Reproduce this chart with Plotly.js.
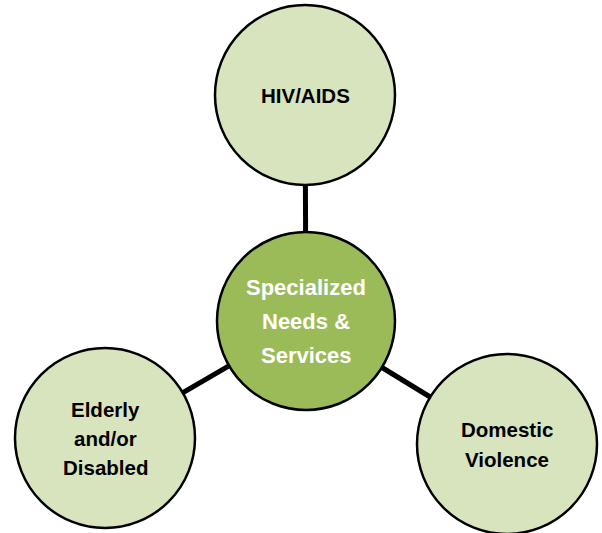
<!DOCTYPE html>
<html>
<head>
<meta charset="utf-8">
<script src="https://cdn.plot.ly/plotly-3.0.1.min.js"></script>
<style>html,body{margin:0;padding:0;background:#fff;}#chart{width:602px;height:533px;}</style>
</head>
<body>
<div id="chart"></div>
<script>
// Diagram data
const nodeNames = ["Specialized\nNeeds &\nServices", "HIV/AIDS", "Elderly\nand/or\nDisabled", "Domestic\nViolence"];
const nodeX = [306, 305, 105, 507];
const nodeY = [321, 95, 438, 444];
const nodeR = [89, 90, 90, 90];
const nodeFill = ["#9BBB59", "#D7E4BD", "#D7E4BD", "#D7E4BD"];
const nodeTextColor = ["#ffffff", "#000000", "#000000", "#000000"];
const nodeFontSize = [22, 20.5, 20.5, 20.5];
const nodeLineGap = [34, 30, 29, 30];
const links = [[0, 1], [0, 2], [0, 3]];

const shapes = [];
links.forEach(([a, b]) => {
  shapes.push({type: "line", xref: "x", yref: "y", x0: nodeX[a], y0: nodeY[a], x1: nodeX[b], y1: nodeY[b],
    line: {color: "#000000", width: 5}, layer: "below"});
});
nodeNames.forEach((n, i) => {
  shapes.push({type: "circle", xref: "x", yref: "y",
    x0: nodeX[i] - nodeR[i], x1: nodeX[i] + nodeR[i], y0: nodeY[i] - nodeR[i], y1: nodeY[i] + nodeR[i],
    fillcolor: nodeFill[i], line: {color: "#000000", width: 2.5}, layer: "below"});
});
const annotations = [];
nodeNames.forEach((n, i) => {
  const lines = n.split("\n");
  lines.forEach((t, k) => {
    annotations.push({x: nodeX[i], y: nodeY[i] + (k - (lines.length - 1) / 2) * nodeLineGap[i],
      xref: "x", yref: "y", text: "<b>" + t + "</b>", showarrow: false,
      font: {family: "Liberation Sans, Arial, sans-serif", size: nodeFontSize[i], color: nodeTextColor[i]},
      xanchor: "center", yanchor: "middle"});
  });
});

const data = [{x: nodeX, y: nodeY, mode: "markers", marker: {opacity: 0}, hoverinfo: "skip", showlegend: false}];
const layout = {
  width: 602, height: 533,
  margin: {l: 0, r: 0, t: 0, b: 0},
  paper_bgcolor: "#ffffff", plot_bgcolor: "#ffffff",
  xaxis: {range: [0, 602], visible: false, fixedrange: true},
  yaxis: {range: [533, 0], visible: false, fixedrange: true},
  shapes: shapes, annotations: annotations, showlegend: false
};
Plotly.newPlot("chart", data, layout, {displayModeBar: false, staticPlot: true});
</script>
</body>
</html>
